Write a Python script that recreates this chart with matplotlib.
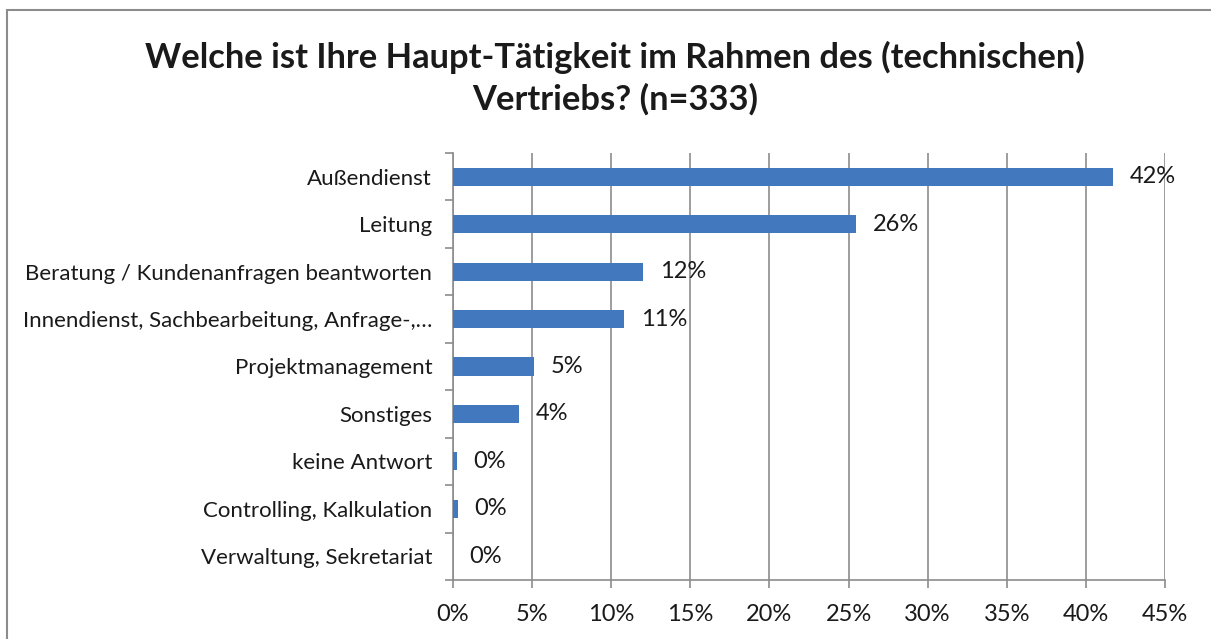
import numpy as np
import matplotlib.pyplot as plt
from matplotlib.patches import Rectangle

plt.rcParams['font.family'] = ['Lato', 'DejaVu Sans']

categories = ['Außendienst', 'Leitung', 'Beratung / Kundenanfragen beantworten',
              'Innendienst, Sachbearbeitung, Anfrage-,…', 'Projektmanagement',
              'Sonstiges', 'keine Antwort', 'Controlling, Kalkulation',
              'Verwaltung, Sekretariat']
values = [41.7, 25.5, 12.0, 10.8, 5.1, 4.2, 0.25, 0.3, 0.0]
labels = ['42%', '26%', '12%', '11%', '5%', '4%', '0%', '0%', '0%']
xticks = [0, 5, 10, 15, 20, 25, 30, 35, 40, 45]

W, H = 1211, 639
fig = plt.figure(figsize=(W / 100, H / 100), dpi=100)
fig.patch.set_facecolor('white')

# outer chart frame (cropped on right/bottom)
fig.add_artist(Rectangle((7 / W, -0.1), 1.2, 1 - 10 / H + 0.1, transform=fig.transFigure,
                         fill=False, edgecolor='#8c8c8c', linewidth=1.5))

ax = fig.add_axes([453 / W, 1 - 580 / H, (1165 - 453) / W, (580 - 153) / H])
y = np.arange(len(categories))
ax.barh(y, values, height=0.38, color='#4178be', zorder=3)
ax.set_ylim(len(categories) - 0.5, -0.5)
ax.set_xlim(0, 45)

for yi, v, lab in zip(y, values, labels):
    ax.annotate(lab, (v, yi), xytext=(12, 0), textcoords='offset points',
                va='center', ha='left', fontsize=17, color='#1a1a1a', zorder=4)

ax.set_xticks(xticks)
ax.set_xticklabels([f'{t}%' for t in xticks], fontsize=17, color='#1a1a1a')
ax.set_yticks(y)
ax.set_yticklabels(categories, fontsize=16, color='#1a1a1a')
ax.set_yticks(np.arange(len(categories) + 1) - 0.5, minor=True)
ax.tick_params(axis='y', which='major', length=0, pad=15)
ax.tick_params(axis='y', which='minor', length=6, color='#8c8c8c', width=1.2)
ax.tick_params(axis='x', length=6, color='#8c8c8c', width=1.2, pad=11)

ax.grid(axis='x', color='#8c8c8c', linewidth=1.2, zorder=0)
for s in ['top', 'right']:
    ax.spines[s].set_visible(False)
for s in ['left', 'bottom']:
    ax.spines[s].set_color('#8c8c8c')
    ax.spines[s].set_linewidth(1.2)

fig.text(615 / W, 1 - 78 / H, 'Welche ist Ihre Haupt-Tätigkeit im Rahmen des (technischen)\nVertriebs? (n=333)',
         ha='center', va='center', fontsize=24.8, fontweight='bold', color='#1a1a1a',
         linespacing=1.35)

fig.savefig('out.png', dpi=100)
